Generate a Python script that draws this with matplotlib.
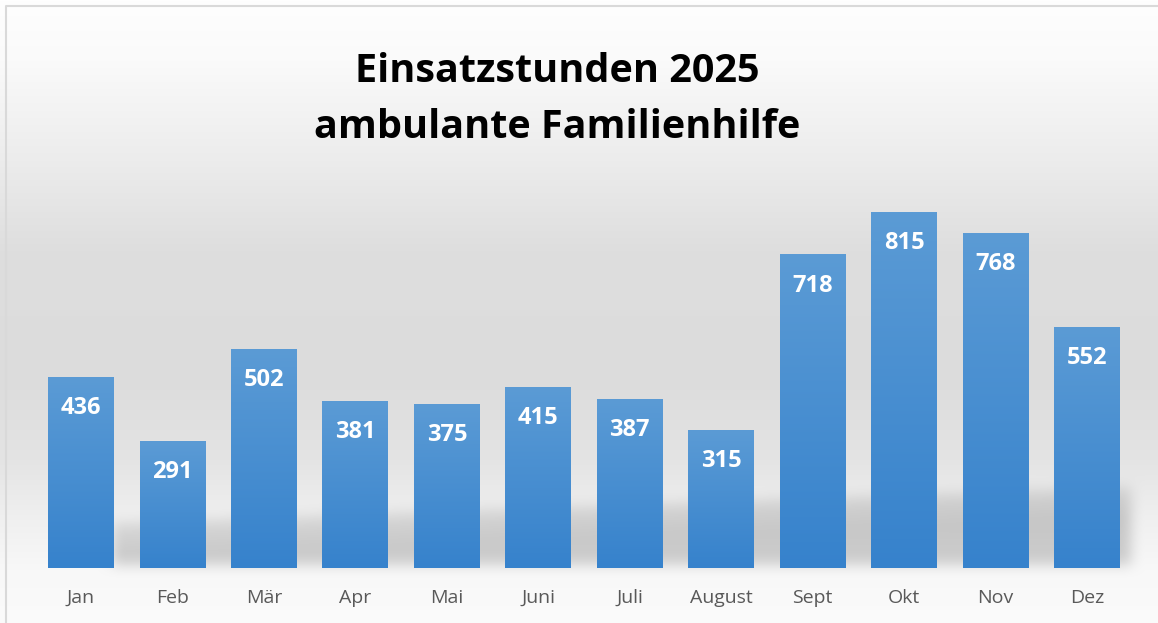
import numpy as np
import matplotlib
matplotlib.use("Agg")
import matplotlib.pyplot as plt

months = ["Jan", "Feb", "Mär", "Apr", "Mai", "Juni", "Juli", "August", "Sept", "Okt", "Nov", "Dez"]
hours = [436, 291, 502, 381, 375, 415, 387, 315, 718, 815, 768, 552]
title_lines = ["Einsatzstunden 2025", "ambulante Familienhilfe"]

W, H, DPI = 1158, 623, 100
fig = plt.figure(figsize=(W / DPI, H / DPI), dpi=DPI)

# ---- background (vertical gray gradient + soft shadow band) ----
bg_ax = fig.add_axes([0, 0, 1, 1], zorder=0)
bg_ax.set_axis_off()
yy = np.arange(H)
prof = np.interp(yy, [0, 60, 160, 250, 380, 460, 520, 570, 623],
                 [254, 250, 236, 222, 220, 228, 240, 248, 251])
img = np.repeat(prof[:, None], W, axis=1).astype(float)

xs = np.arange(W)[None, :]
ys = yy[:, None]
top_edge = np.interp(np.arange(W), [112, 1135], [522, 486])[None, :]
mask = ((xs >= 112) & (xs <= 1130) & (ys >= top_edge) & (ys <= 564)).astype(float)
depth = np.clip((ys - top_edge) / 30.0, 0, 1)
mask = mask * (0.55 + 0.45 * depth)

def box_blur(a, r, axis):
    k = np.ones(2 * r + 1) / (2 * r + 1)
    return np.apply_along_axis(lambda m: np.convolve(m, k, mode="same"), axis, a)

for _ in range(2):
    mask = box_blur(mask, 7, 0)
    mask = box_blur(mask, 7, 1)
img = img - 42 * mask
rgb = np.clip(np.stack([img, img, img], axis=-1) / 255.0, 0, 1)
bg_ax.imshow(rgb, extent=(0, W, H, 0), aspect="auto", interpolation="bilinear")
bg_ax.set_xlim(0, W)
bg_ax.set_ylim(H, 0)
bg_ax.plot([5.5, 5.5, W + 5], [H + 5, 5.5, 5.5], color="#d9d9d9", lw=1.5)

# ---- bar chart ----
ax = fig.add_axes([35.3 / W, (H - 568) / H, (1132.7 - 35.3) / W, (568 - 180) / H], zorder=1)
ax.patch.set_alpha(0)
x = np.arange(len(months))
bw = 0.72
bars = ax.bar(x, hours, width=bw, color="none", edgecolor="none")
grad = np.linspace(0, 1, 256)[:, None]
c_top = np.array([91, 155, 213]) / 255
c_bot = np.array([54, 130, 204]) / 255
grad_rgb = c_top[None, None, :] * (1 - grad[..., None]) + c_bot[None, None, :] * grad[..., None]
for b in bars:
    x0, y0 = b.get_x(), b.get_y()
    ax.imshow(grad_rgb, extent=(x0, x0 + b.get_width(), y0, y0 + b.get_height()),
              aspect="auto", origin="upper", zorder=2, interpolation="bilinear")

for xi, v in zip(x, hours):
    ax.annotate(f"{v}", (xi, v), xytext=(0, -22), textcoords="offset points",
                ha="center", va="center", color="white", fontsize=17,
                fontweight="bold", family="Open Sans", zorder=3)

ax.set_xlim(-0.5, len(months) - 0.5)
ax.set_ylim(0, 890)
ax.set_xticks(x)
ax.set_xticklabels(months, family="Open Sans", fontsize=14, color="#595959")
ax.tick_params(axis="x", length=0, pad=15)
ax.set_yticks([])
for s in ax.spines.values():
    s.set_visible(False)

fig.text(557 / W, 1 - 71 / H, title_lines[0], ha="center", va="center",
         fontsize=28.5, fontweight="bold", family="Open Sans", color="black")
fig.text(557 / W, 1 - 127 / H, title_lines[1], ha="center", va="center",
         fontsize=28.5, fontweight="bold", family="Open Sans", color="black")

fig.savefig("out.png", dpi=DPI)
